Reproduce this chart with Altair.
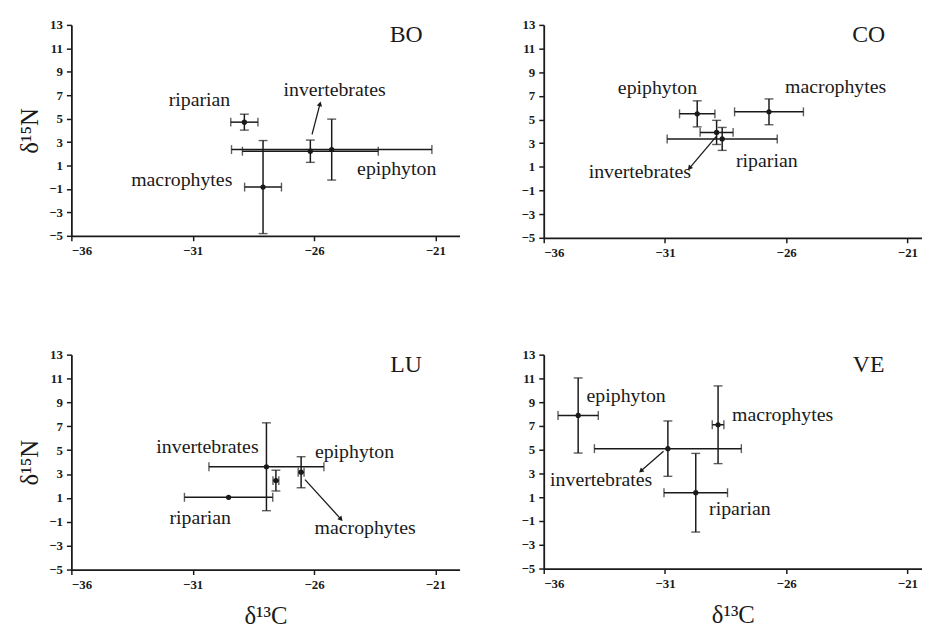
import math
import altair as alt
import pandas as pd

# ---------------- data ----------------
groups = ["riparian", "macrophytes", "invertebrates", "epiphyton"]

BO_c13 = [-28.87, -28.10, -26.15, -25.27]
BO_c13_err = [0.56, 0.76, 2.80, 4.13]
BO_n15 = [4.70, -0.84, 2.22, 2.36]
BO_n15_err = [0.68, 3.97, 0.95, 2.60]

CO_c13 = [-28.64, -26.71, -28.87, -29.67]
CO_c13_err = [2.27, 1.42, 0.68, 0.73]
CO_n15 = [3.36, 5.65, 3.91, 5.48]
CO_n15_err = [0.97, 1.09, 1.02, 1.10]

LU_c13 = [-29.52, -27.57, -27.96, -26.53]
LU_c13_err = [1.82, 0.12, 2.37, 0.12]
LU_n15 = [1.05, 2.45, 3.61, 3.15]
LU_n15_err = [0.0, 0.87, 3.68, 1.30]

VE_c13 = [-29.73, -28.81, -30.88, -34.58]
VE_c13_err = [1.31, 0.24, 3.03, 0.83]
VE_n15 = [1.38, 7.10, 5.09, 7.88]
VE_n15_err = [3.31, 3.27, 2.33, 3.16]

# label placement (data coordinates)
BO_lab_x = [-30.72, -31.45, -25.15, -22.59]
BO_lab_y = [6.55, -0.24, 7.48, 0.69]
CO_lab_x = [-26.80, -23.96, -32.04, -31.31]
CO_lab_y = [1.50, 7.76, 0.52, 7.62]
LU_lab_x = [-30.69, -23.89, -30.39, -24.33]
LU_lab_y = [-0.67, -1.56, 5.29, 4.85]
VE_lab_x = [-27.91, -26.15, -33.63, -32.60]
VE_lab_y = [-0.01, 7.93, 2.42, 9.55]

# arrows: start x, start y, end x, end y (arrow head at end)
BO_arrow = [-26.08, 3.66, -25.76, 6.20]
CO_arrow = [-28.88, 3.58, -29.97, 0.94]
LU_arrow = [-26.37, 2.53, -24.91, -0.73]
VE_arrow = [-31.06, 4.87, -31.97, 3.25]

FONT = "Liberation Serif"
INK = "#1a1a1a"
Y_TICKS = [-5, -3, -1, 1, 3, 5, 7, 9, 11, 13]
X_TICKS = [-36, -31, -26, -21]
KX = 24.5  # px per unit (for arrow head orientation)


def panel(site, c13, c13e, n15, n15e, labx, laby, arrow, xmax, width, height,
          ytitle, xtitle):
    df = pd.DataFrame({
        "group": groups, "x": c13, "y": n15,
        "xlo": [a - b for a, b in zip(c13, c13e)],
        "xhi": [a + b for a, b in zip(c13, c13e)],
        "ylo": [max(a - b, -5) for a, b in zip(n15, n15e)],
        "yhi": [a + b for a, b in zip(n15, n15e)],
        "lx": labx, "ly": laby,
    })
    ky = height / 18.0
    xs = alt.Scale(domain=[-36, xmax], nice=False, zero=False)
    ys = alt.Scale(domain=[-5, 13], nice=False, zero=False)
    xax = alt.Axis(values=X_TICKS, title=xtitle, labelOverlap=False,
                   titlePadding=12) if xtitle else \
        alt.Axis(values=X_TICKS, title=None, labelOverlap=False)
    yax = alt.Axis(values=Y_TICKS, title=ytitle, labelOverlap=False) if ytitle else \
        alt.Axis(values=Y_TICKS, title=None, labelOverlap=False)

    def ex(field):
        return alt.X(field, type="quantitative", scale=xs, axis=xax)

    def ey(field):
        return alt.Y(field, type="quantitative", scale=ys, axis=yax)

    base = alt.Chart(df)

    hbar = base.mark_rule(color=INK, strokeWidth=1.5).encode(
        x=ex("xlo"), x2="xhi:Q", y=ey("y"))
    vbar = base.mark_rule(color=INK, strokeWidth=1.5).encode(
        x=ex("x"), y=ey("ylo"), y2="yhi:Q")
    caps_xl = base.mark_tick(color=INK, orient="vertical", size=9, thickness=1.4).encode(
        x=ex("xlo"), y=ey("y"))
    caps_xh = base.mark_tick(color=INK, orient="vertical", size=9, thickness=1.4).encode(
        x=ex("xhi"), y=ey("y"))
    caps_yl = base.transform_filter("datum.ylo > -5 && datum.yhi > datum.ylo").mark_tick(
        color=INK, orient="horizontal", size=9, thickness=1.4).encode(
        x=ex("x"), y=ey("ylo"))
    caps_yh = base.transform_filter("datum.yhi > datum.ylo").mark_tick(
        color=INK, orient="horizontal", size=9, thickness=1.4).encode(
        x=ex("x"), y=ey("yhi"))
    pts = base.mark_circle(color=INK, size=28, opacity=1).encode(x=ex("x"), y=ey("y"))
    labels = base.mark_text(font=FONT, fontSize=20, color=INK).encode(
        x=ex("lx"), y=ey("ly"), text="group:N")

    sdf = pd.DataFrame({"site": [site], "sx": [xmax - 2.2], "sy": [12.1]})
    site_lab = alt.Chart(sdf).mark_text(font=FONT, fontSize=24, color=INK).encode(
        x=ex("sx"), y=ey("sy"), text="site:N")

    x0, y0, x1, y1 = arrow
    ang = math.degrees(math.atan2((x1 - x0) * KX, (y1 - y0) * ky)) % 360
    adf = pd.DataFrame({"x0": [x0], "y0": [y0], "x1": [x1], "y1": [y1], "ang": [ang]})
    arr = alt.Chart(adf).mark_rule(color=INK, strokeWidth=1.3).encode(
        x=ex("x0"), y=ey("y0"), x2="x1:Q", y2="y1:Q")
    head = alt.Chart(adf).mark_point(shape="triangle", filled=True, color=INK,
                                     size=30, opacity=1).encode(
        x=ex("x1"), y=ey("y1"),
        angle=alt.Angle("ang:Q", scale=None))

    return alt.layer(hbar, vbar, caps_xl, caps_xh, caps_yl, caps_yh, pts,
                     labels, site_lab, arr, head).properties(width=width, height=height)


YT = "δ¹⁵N"
XT = "δ¹³C"
bo = panel("BO", BO_c13, BO_c13_err, BO_n15, BO_n15_err, BO_lab_x, BO_lab_y, BO_arrow,
           -20, 392, 213, YT, None)
co = panel("CO", CO_c13, CO_c13_err, CO_n15, CO_n15_err, CO_lab_x, CO_lab_y, CO_arrow,
           -20.4, 382, 215, None, None)
lu = panel("LU", LU_c13, LU_c13_err, LU_n15, LU_n15_err, LU_lab_x, LU_lab_y, LU_arrow,
           -20, 392, 217, YT, XT)
ve = panel("VE", VE_c13, VE_c13_err, VE_n15, VE_n15_err, VE_lab_x, VE_lab_y, VE_arrow,
           -20.4, 382, 216, None, XT)

top = alt.hconcat(bo, co, spacing=62)
bottom = alt.hconcat(lu, ve, spacing=62)
chart = alt.vconcat(top, bottom, spacing=90).properties(
    padding={"left": 10, "top": 8, "right": 0, "bottom": 0},
    background="white",
).configure_view(stroke=None).configure_axis(
    grid=False, labelFont=FONT, labelFontSize=13, labelFontWeight="bold",
    labelColor=INK, domainColor=INK, domainWidth=1.8, tickColor=INK, tickWidth=1.5,
    tickSize=5, labelPadding=4, titleFont=FONT, titleFontSize=25,
    titleFontWeight="normal", titleColor=INK, titlePadding=6,
)

chart.save("out.html", embed_options={"renderer": "svg", "actions": False})
